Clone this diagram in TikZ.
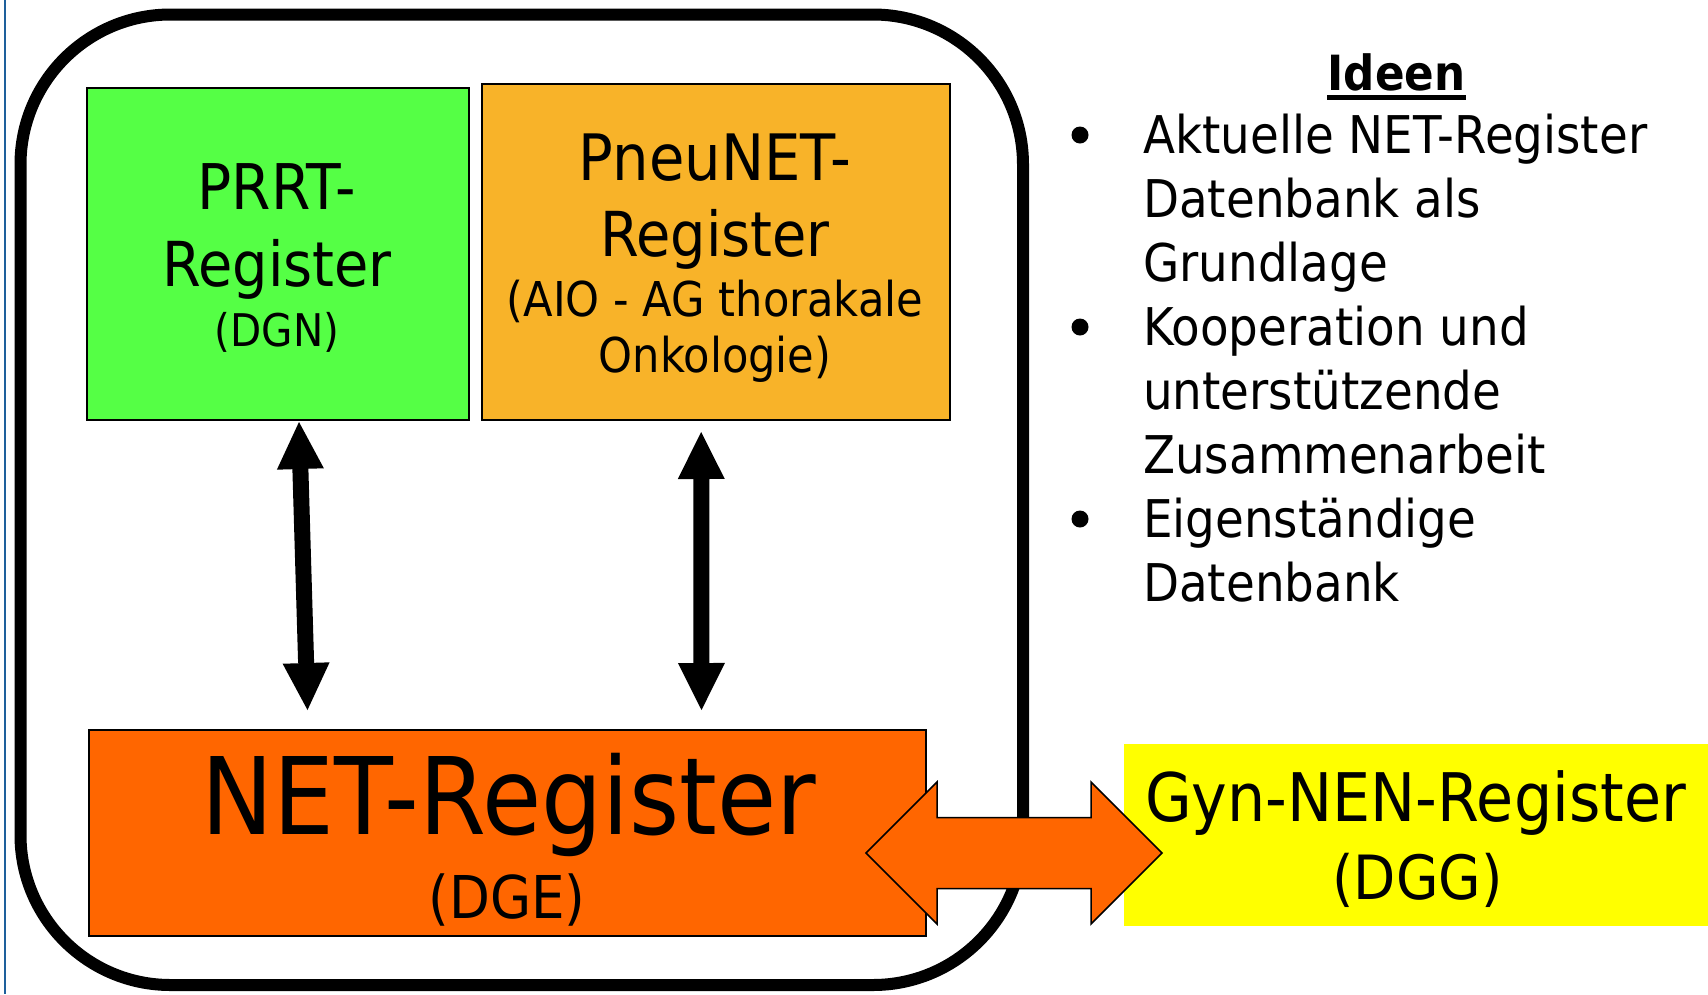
\documentclass[tikz,border=0pt]{standalone}
\usepackage{fontspec}
\setmainfont{DejaVu Sans}[FakeStretch=0.9]
\usetikzlibrary{arrows.meta}
\definecolor{prrtgreen}{RGB}{85,255,69}
\definecolor{pneuorange}{RGB}{248,179,41}
\definecolor{netorange}{RGB}{255,102,0}
\definecolor{gynyellow}{RGB}{255,255,0}
\definecolor{edgeblue}{RGB}{30,96,156}
\tikzset{
  regbox/.style={draw=black,line width=2pt,inner sep=0pt,anchor=north west},
  lbl/.style={inner sep=0pt,anchor=base},
  idea/.style={inner sep=0pt,anchor=base west,font=\fontsize{52}{64}\selectfont},
  vlink/.style={line width=16pt,{Triangle[length=47pt,width=47pt,line width=0pt]}-{Triangle[length=47pt,width=47pt,line width=0pt]}},
  blockarrow/.style={fill=netorange,draw=black,line width=1.5pt,line join=miter}
}
\begin{document}
\begin{tikzpicture}[x=1pt,y=-1pt]
	\useasboundingbox (0,0) rectangle (1708,994);
	\fill[white] (0,0) rectangle (1708,994);
	\draw[edgeblue,line width=2pt] (5,0) -- (5,994);
	% frame
	\draw[line width=12pt,rounded corners=150pt] (20.5,14.5) rectangle (1023,985);
	% boxes
	\node[regbox,fill=prrtgreen,minimum width=382pt,minimum height=332.5pt] (prrt) at (86,86.5) {};
	\node[regbox,fill=pneuorange,minimum width=468pt,minimum height=336pt] (pneu) at (480.7,83) {};
	\node[regbox,fill=netorange,minimum width=837pt,minimum height=206pt] (net) at (88,729) {};
	\node[regbox,draw=none,fill=gynyellow,minimum width=585pt,minimum height=182pt] (gyn) at (1123,743) {};
	% arrows
	\draw[vlink] ([xshift=21pt,yshift=-1pt]prrt.south) -- ([xshift=-200pt,yshift=19pt]net.north);
	\draw[vlink] ([xshift=-14.5pt,yshift=-11pt]pneu.south) -- ([xshift=194pt,yshift=19pt]net.north);
	\coordinate (dl) at (866,853);
	\coordinate (dr) at (1162,853);
	\draw[blockarrow] (dl) -- ++(71,-71) -- ++(0,35.5) -- ++(154,0) -- ++(0,-35.5) -- (dr)
		-- ++(-71,71) -- ++(0,-35.5) -- ++(-154,0) -- ++(0,35.5) -- cycle;
	% labels
	\node[lbl,font=\fontsize{63}{72}\selectfont] (prrt1) at (277,209.3) {PRRT-};
	\node[lbl,font=\fontsize{62}{72}\selectfont] (prrt2) at (277,286.7) {Register};
	\node[lbl,font=\fontsize{45}{52}\selectfont] (prrt3) at (277,346.7) {(DGN)};
	\node[lbl,font=\fontsize{64}{72}\selectfont] (pneu1) at (715,180) {PneuNET-};
	\node[lbl,font=\fontsize{62}{72}\selectfont] (pneu2) at (715,256.7) {Register};
	\node[lbl,font=\fontsize{48}{56}\selectfont] (pneu3) at (715,316) {(AIO - AG thorakale};
	\node[lbl,font=\fontsize{48}{56}\selectfont] (pneu4) at (715,372.5) {Onkologie)};
	\node[lbl,font=\fontsize{107}{120}\selectfont] (net1) at (509,834.3) {NET-Register};
	\node[lbl,font=\fontsize{59}{66}\selectfont] (net2) at (507,918.3) {(DGE)};
	\node[lbl,font=\fontsize{67}{80}\selectfont] (gyn1) at (1415.5,821) {Gyn-NEN-Register};
	\node[lbl,font=\fontsize{61}{70}\selectfont] (gyn2) at (1417.5,899) {(DGG)};
	% ideas
	\node[lbl,font=\fontsize{48.5}{60}\selectfont\bfseries] (ideen) at (1396.5,90) {Ideen};
	\draw[line width=5pt] ([yshift=-7pt]ideen.base west) -- ([yshift=-7pt]ideen.base east);
	\foreach \i/\y/\txt in {1/153/Aktuelle NET-Register,2/217/Datenbank als,3/281/Grundlage,
		4/345/Kooperation und,5/409/unterstützende,6/473/Zusammenarbeit,7/537/Eigenständige,8/601/Datenbank}
		\node[idea] (l\i) at (1143,\y) {\txt};
	\foreach \y in {135,327,519}
		\fill (1080,\y) circle[radius=8.5pt];
\end{tikzpicture}
\end{document}
